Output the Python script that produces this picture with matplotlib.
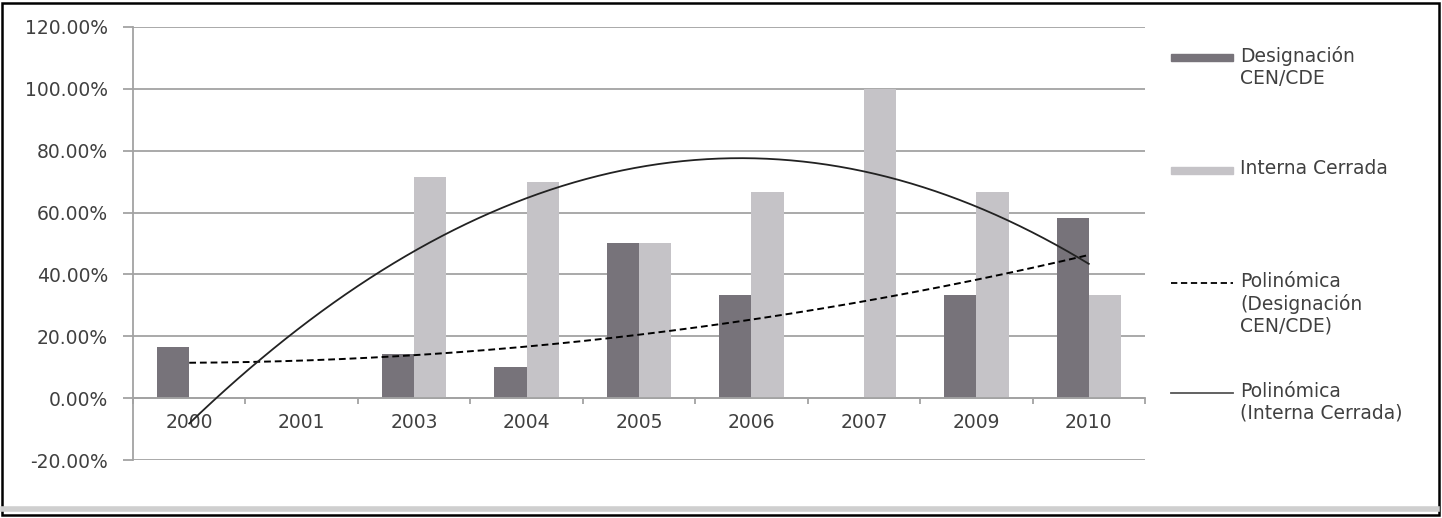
import numpy as np
import matplotlib
matplotlib.use('Agg')
import matplotlib.pyplot as plt
from matplotlib.patches import Rectangle
from matplotlib.lines import Line2D

plt.rcParams['font.family'] = ['DejaVu Sans']

# datos
years = ['2000', '2001', '2003', '2004', '2005', '2006', '2007', '2009', '2010']
designacion = [16.67, 0, 14.29, 10, 50, 33.33, 0, 33.33, 58.33]
interna = [0, 0, 71.43, 70, 50, 66.67, 100, 66.67, 33.33]
yticks = [-20, 0, 20, 40, 60, 80, 100, 120]

dark = '#77737a'
light = '#c5c3c7'
grid = '#a3a3a3'
txt = '#404040'

W, H = 1442, 518
fig = plt.figure(figsize=(W/100, H/100), dpi=100)
ax = fig.add_axes([133/W, 1-460/H, (1145-133)/W, (460-27)/H])

x = np.arange(len(years))
bw = 0.287
ax.bar(x-bw/2, designacion, bw, color=dark, zorder=2)
ax.bar(x+bw/2, interna, bw, color=light, zorder=2)

# lineas de tendencia polinomicas (orden 2)
xs = np.linspace(0, len(years)-1, 300)
p1 = np.polyfit(x, designacion, 2)
p2 = np.polyfit(x, interna, 2)
ax.plot(xs, np.polyval(p1, xs), color='black', lw=1.4, ls=(0, (3.5, 2)), zorder=3)
ax.plot(xs, np.polyval(p2, xs), color='#222222', lw=1.3, zorder=3)

ax.set_xlim(-0.5, len(years)-0.5)
ax.set_ylim(-20, 120)
ax.set_yticks(yticks)
ax.set_yticklabels(['%.2f%%' % v for v in yticks])
ax.yaxis.grid(True, color=grid, lw=1.3, zorder=0)
ax.tick_params(axis='y', length=7, color=grid, width=1.3, labelsize=13.5, labelcolor=txt, pad=11)

ax.spines['bottom'].set_position(('data', 0))
ax.spines['bottom'].set_color(grid)
ax.spines['bottom'].set_linewidth(1.3)
ax.spines['left'].set_color(grid)
ax.spines['left'].set_linewidth(1.3)
ax.spines['top'].set_visible(False)
ax.spines['right'].set_visible(False)

ax.set_xticks(np.arange(len(years)+1)-0.5)
ax.set_xticklabels([])
ax.tick_params(axis='x', which='major', length=4, color=grid, width=1.3)
ax.set_xticks(x, minor=True)
ax.set_xticklabels(years, minor=True)
ax.tick_params(axis='x', which='minor', length=0, pad=11, labelsize=13.5, labelcolor=txt)

# leyenda
def fx(px):
    return px/W

def fy(py):
    return 1-py/H

entries = [
    ('bar', dark, 'Designación\nCEN/CDE', 57),
    ('bar', light, 'Interna Cerrada', 170),
    ('dash', 'black', 'Polinómica\n(Designación\nCEN/CDE)', 283),
    ('line', '#555555', 'Polinómica\n(Interna Cerrada)', 393),
]
for kind, col, lab, py in entries:
    if kind == 'bar':
        fig.add_artist(Rectangle((fx(1171), fy(py+4)), fx(62), 7/H, color=col,
                                 transform=fig.transFigure))
    elif kind == 'dash':
        fig.add_artist(Line2D([fx(1171), fx(1233)], [fy(py), fy(py)], color=col, lw=1.3,
                              ls=(0, (3.5, 2)), transform=fig.transFigure))
    else:
        fig.add_artist(Line2D([fx(1171), fx(1233)], [fy(py), fy(py)], color=col, lw=1.3,
                              transform=fig.transFigure))
    fig.text(fx(1240), fy(py-11), lab, ha='left', va='top', fontsize=13.5,
             color=txt, linespacing=1.18)

# marco
fig.add_artist(Line2D([fx(3), fx(1437)], [fy(509), fy(509)], color='#cfcfcf', lw=4,
                      transform=fig.transFigure))
fig.add_artist(Rectangle((fx(2), fy(515)), fx(1437), 512/H, fill=False, ec='black',
                         lw=1.8, transform=fig.transFigure))

fig.savefig('out.png', dpi=100)
